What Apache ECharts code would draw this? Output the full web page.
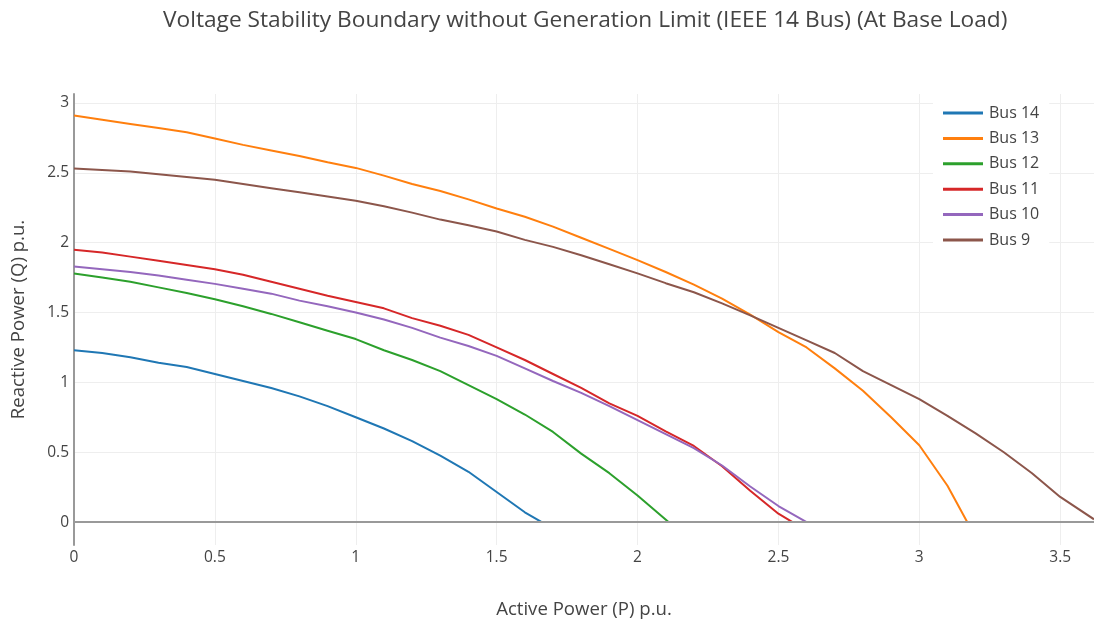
<!DOCTYPE html>
<html>
<head>
<meta charset="utf-8">
<script src="https://cdn.jsdelivr.net/npm/echarts@6/dist/echarts.min.js"></script>
<style>
html,body{margin:0;padding:0;background:#fff;}
#chart{width:1094px;height:625px;}
</style>
</head>
<body>
<div id="chart"></div>
<script>
const titleText = 'Voltage Stability Boundary without Generation Limit (IEEE 14 Bus) (At Base Load)';
const xAxisTitle = 'Active Power (P) p.u.';
const yAxisTitle = 'Reactive Power (Q) p.u.';
const seriesNames = ['Bus 14', 'Bus 13', 'Bus 12', 'Bus 11', 'Bus 10', 'Bus 9'];
const seriesColors = ['#1f77b4', '#ff7f0e', '#2ca02c', '#d62728', '#9467bd', '#8c564b'];

const pBus14 = [0, 0.1, 0.2, 0.3, 0.4, 0.5, 0.6, 0.7, 0.8, 0.9, 1.0, 1.1, 1.2, 1.3, 1.4, 1.5, 1.6, 1.66];
const qBus14 = [1.23, 1.21, 1.18, 1.14, 1.11, 1.06, 1.01, 0.96, 0.90, 0.83, 0.75, 0.67, 0.58, 0.475, 0.36, 0.215, 0.07, 0];

const pBus13 = [0, 0.1, 0.2, 0.3, 0.4, 0.5, 0.6, 0.7, 0.8, 0.9, 1.0, 1.1, 1.2, 1.3, 1.4, 1.5, 1.6, 1.7, 1.8, 1.9, 2.0, 2.1, 2.2, 2.3, 2.4, 2.5, 2.6, 2.7, 2.8, 2.9, 3.0, 3.1, 3.17];
const qBus13 = [2.91, 2.88, 2.85, 2.82, 2.79, 2.745, 2.70, 2.66, 2.62, 2.575, 2.535, 2.48, 2.42, 2.37, 2.31, 2.245, 2.185, 2.115, 2.035, 1.955, 1.875, 1.79, 1.70, 1.60, 1.485, 1.36, 1.25, 1.10, 0.94, 0.75, 0.55, 0.26, 0];

const pBus12 = [0, 0.1, 0.2, 0.3, 0.4, 0.5, 0.6, 0.7, 0.8, 0.9, 1.0, 1.1, 1.2, 1.3, 1.4, 1.5, 1.6, 1.7, 1.8, 1.9, 2.0, 2.11];
const qBus12 = [1.78, 1.75, 1.72, 1.68, 1.64, 1.595, 1.545, 1.49, 1.43, 1.37, 1.31, 1.23, 1.16, 1.08, 0.98, 0.88, 0.77, 0.645, 0.49, 0.35, 0.19, 0];

const pBus11 = [0, 0.1, 0.2, 0.3, 0.4, 0.5, 0.6, 0.7, 0.8, 0.9, 1.0, 1.1, 1.2, 1.3, 1.4, 1.5, 1.6, 1.7, 1.8, 1.9, 2.0, 2.1, 2.2, 2.3, 2.4, 2.5, 2.55];
const qBus11 = [1.95, 1.93, 1.90, 1.87, 1.84, 1.81, 1.77, 1.72, 1.67, 1.62, 1.575, 1.53, 1.46, 1.405, 1.34, 1.25, 1.16, 1.06, 0.96, 0.85, 0.76, 0.65, 0.545, 0.40, 0.225, 0.06, 0];

const pBus10 = [0, 0.1, 0.2, 0.3, 0.4, 0.5, 0.6, 0.7, 0.8, 0.9, 1.0, 1.1, 1.2, 1.3, 1.4, 1.5, 1.6, 1.7, 1.8, 1.9, 2.0, 2.1, 2.2, 2.3, 2.4, 2.5, 2.6];
const qBus10 = [1.83, 1.81, 1.79, 1.765, 1.735, 1.705, 1.67, 1.635, 1.585, 1.545, 1.50, 1.45, 1.39, 1.32, 1.26, 1.19, 1.10, 1.01, 0.925, 0.83, 0.73, 0.63, 0.53, 0.405, 0.255, 0.115, 0];

const pBus9 = [0, 0.1, 0.2, 0.3, 0.4, 0.5, 0.6, 0.7, 0.8, 0.9, 1.0, 1.1, 1.2, 1.3, 1.4, 1.5, 1.6, 1.7, 1.8, 1.9, 2.0, 2.1, 2.2, 2.3, 2.4, 2.5, 2.6, 2.7, 2.8, 2.9, 3.0, 3.1, 3.2, 3.3, 3.4, 3.5, 3.62];
const qBus9 = [2.53, 2.52, 2.51, 2.49, 2.47, 2.45, 2.42, 2.39, 2.36, 2.33, 2.30, 2.26, 2.215, 2.165, 2.125, 2.08, 2.02, 1.97, 1.91, 1.845, 1.78, 1.71, 1.645, 1.565, 1.48, 1.39, 1.30, 1.21, 1.08, 0.98, 0.88, 0.76, 0.635, 0.50, 0.35, 0.18, 0.02];

const pLists = [pBus14, pBus13, pBus12, pBus11, pBus10, pBus9];
const qLists = [qBus14, qBus13, qBus12, qBus11, qBus10, qBus9];

const xTickLabels = ['0', '0.5', '1', '1.5', '2', '2.5', '3', '3.5'];
const yTickLabels = ['0', '0.5', '1', '1.5', '2', '2.5', '3'];

const FONT = '"Open Sans", "Noto Sans", sans-serif';
const chart = echarts.init(document.getElementById('chart'), null, {renderer: 'canvas'});

const series = seriesNames.map((name, i) => ({
  name: name,
  type: 'line',
  symbol: 'none',
  smooth: false,
  color: seriesColors[i],
  lineStyle: {width: 2, color: seriesColors[i]},
  data: pLists[i].map((p, j) => [p, qLists[i][j]])
}));

// zero line of the Q axis (Plotly-style zeroline)
series[0].markLine = {
  silent: true,
  symbol: ['none', 'none'],
  label: {show: false},
  lineStyle: {type: 'solid', color: '#999', width: 2},
  data: [{yAxis: 0}]
};
series[0].z = 1;

function fmt(v) {
  return String(Math.round(v * 100) / 100);
}

chart.setOption({
  animation: false,
  backgroundColor: '#fff',
  title: {
    text: titleText,
    left: 158,
    top: 4,
    textStyle: {fontFamily: FONT, fontSize: 22.7, fontWeight: 'normal', color: '#444'}
  },
  legend: {
    orient: 'vertical',
    left: 933,
    top: 98,
    padding: [7, 10, 7, 10],
    backgroundColor: '#fff',
    itemWidth: 40,
    itemHeight: 3,
    itemGap: 9.4,
    icon: 'rect',
    textStyle: {fontFamily: FONT, fontSize: 16, color: '#444', padding: [0, 0, 0, 1]},
    data: seriesNames
  },
  grid: {left: 74, right: 0, top: 94, bottom: 80, containLabel: false, outerBoundsMode: 'none'},
  xAxis: {
    type: 'value',
    min: 0,
    max: 3.62,
    interval: 0.5,
    name: xAxisTitle,
    nameLocation: 'middle',
    nameGap: 55,
    nameMoveOverlap: false,
    nameTextStyle: {fontFamily: FONT, fontSize: 18.6, color: '#444'},
    axisLine: {show: false, onZero: false},
    axisTick: {show: false},
    axisLabel: {
      margin: 5,
      fontFamily: FONT, fontSize: 15.5, color: '#444',
      showMaxLabel: false,
      formatter: function (v) { const s = fmt(v); return xTickLabels.indexOf(s) >= 0 ? s : ''; }
    },
    splitLine: {show: true, showMaxLine: false, lineStyle: {color: '#eee', width: 1}}
  },
  yAxis: {
    type: 'value',
    min: -0.164,
    max: 3.064,
    splitNumber: 6,
    name: yAxisTitle,
    nameLocation: 'middle',
    nameGap: 46,
    nameMoveOverlap: false,
    nameTextStyle: {fontFamily: FONT, fontSize: 18.6, color: '#444'},
    axisLine: {show: true, onZero: false, lineStyle: {color: '#999', width: 2}},
    axisTick: {show: false},
    axisLabel: {
      margin: 5,
      fontFamily: FONT, fontSize: 15.5, color: '#444',
      showMinLabel: false, showMaxLabel: false,
      formatter: function (v) { const s = fmt(v); return yTickLabels.indexOf(s) >= 0 ? s : ''; }
    },
    splitLine: {show: true, showMinLine: false, showMaxLine: false, lineStyle: {color: '#eee', width: 1}}
  },
  series: series
});
</script>
</body>
</html>
